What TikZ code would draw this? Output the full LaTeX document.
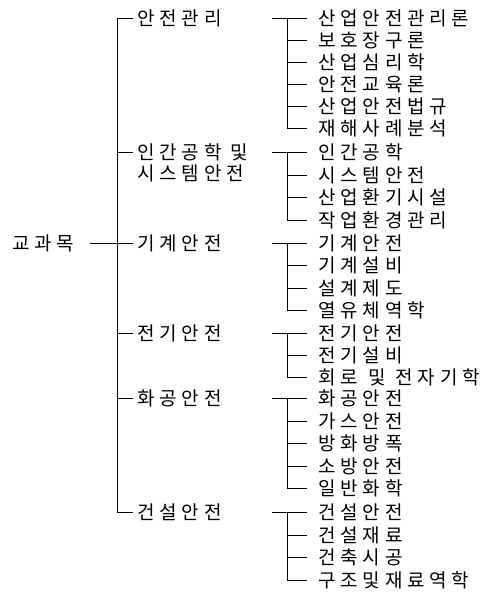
\documentclass[tikz,border=0pt]{standalone}
\usepackage{fontspec}
\newfontfamily\kr[LetterSpace=25]{Noto Sans CJK KR}
\begin{document}
\begin{tikzpicture}[x=1pt,y=-1pt,line width=0.8pt,
  lbl/.style={anchor=west,inner sep=0pt,font=\kr\fontsize{19}{21}\selectfont}]
\useasboundingbox (0,0) rectangle (496,594);
% root
\node[lbl] (root) at (12,243) {교과목};
% branches
\node[lbl] (b1) at (137,18) {안전관리};
\node[lbl] (b2) at (137,152) {인간공학\hspace{9pt}및};
\node[lbl] (b2b) at (137,173) {시스템안전};
\node[lbl] (b3) at (137,243) {기계안전};
\node[lbl] (b4) at (137,333) {전기안전};
\node[lbl] (b5) at (137,398) {화공안전};
\node[lbl] (b6) at (137,512) {건설안전};
\coordinate (tt) at (117,18);
\coordinate (tb) at (117,512);
\draw ([xshift=-4pt]b1.west) -- (tt) -- (tb) -- ([xshift=-4pt]b6.west);
\draw ([xshift=-4pt]b2.west) -- (b2.west -| tt);
\draw ([xshift=-4pt]b4.west) -- (b4.west -| tt);
\draw ([xshift=-4pt]b5.west) -- (b5.west -| tt);
\coordinate (rs) at (90,243);
\draw (rs) -- ([xshift=-4pt]b3.west);
% leaves
\node[lbl] (a1) at (318,18) {산업안전관리론};
\node[lbl] (a2) at (318,40) {보호장구론};
\node[lbl] (a3) at (318,62) {산업심리학};
\node[lbl] (a4) at (318,84) {안전교육론};
\node[lbl] (a5) at (318,106) {산업안전법규};
\node[lbl] (a6) at (318,128) {재해사례분석};
\node[lbl] (c1) at (318,152) {인간공학};
\node[lbl] (c2) at (318,175) {시스템안전};
\node[lbl] (c3) at (318,197) {산업환기시설};
\node[lbl] (c4) at (318,220) {작업환경관리};
\node[lbl] (d1) at (318,243) {기계안전};
\node[lbl] (d2) at (318,265) {기계설비};
\node[lbl] (d3) at (318,288) {설계제도};
\node[lbl] (d4) at (318,310) {열유체역학};
\node[lbl] (e1) at (318,333) {전기안전};
\node[lbl] (e2) at (318,355) {전기설비};
\node[lbl] (e3) at (318,377) {회로\hspace{10pt}및\hspace{10pt}전자기학};
\node[lbl] (f1) at (318,398) {화공안전};
\node[lbl] (f2) at (318,421) {가스안전};
\node[lbl] (f3) at (318,443) {방화방폭};
\node[lbl] (f4) at (318,466) {소방안전};
\node[lbl] (f5) at (318,488) {일반화학};
\node[lbl] (g1) at (318,512) {건설안전};
\node[lbl] (g2) at (318,535) {건설재료};
\node[lbl] (g3) at (318,557) {건축시공};
\node[lbl] (g4) at (318,580) {구조및재료역학};
% group connectors
\coordinate (vx) at (287,0);
\foreach \first/\last/\mids in {a1/a6/{a2,a3,a4,a5},c1/c4/{c2,c3},d1/d4/{d2,d3},e1/e3/{e2},f1/f5/{f2,f3,f4},g1/g4/{g2,g3}}{
  \draw ([xshift=-46pt]\first.west) -- ([xshift=-11pt]\first.west);
  \draw (\first.west -| vx) -- (\last.west -| vx) -- ([xshift=-11pt]\last.west);
  \foreach \m in \mids { \draw (\m.west -| vx) -- ([xshift=-11pt]\m.west); }
}
\end{tikzpicture}
\end{document}
